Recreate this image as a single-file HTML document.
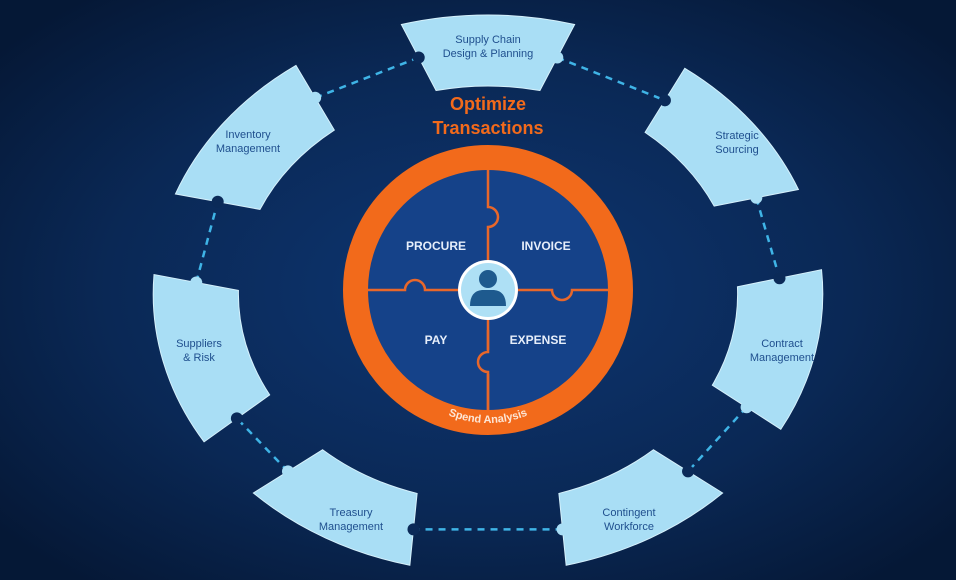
<!DOCTYPE html>
<html><head><meta charset="utf-8"><style>
html,body{margin:0;padding:0;background:#0a2550;}
svg{display:block;}
text{font-family:"Liberation Sans",sans-serif;}
</style></head><body>
<svg id="s" width="956" height="580" viewBox="0 0 956 580" xmlns="http://www.w3.org/2000/svg">
<defs>
<radialGradient id="bg" cx="50%" cy="50%" r="65%">
<stop offset="0" stop-color="#0e3672"/><stop offset="0.6" stop-color="#0a2855"/><stop offset="1" stop-color="#051836"/>
</radialGradient>
<path id="arcp" d="M 370 290 A 118 133 0 0 0 606 290"/>
</defs>
<rect width="956" height="580" fill="url(#bg)"/>
<g id="dash" stroke="#3fb4e6" stroke-width="2.5" stroke-dasharray="7 6" fill="none"></g>
<g id="segs"></g>
<text x="488" y="110" text-anchor="middle" font-size="18" font-weight="bold" fill="#f26a1b">Optimize</text>
<text x="488" y="134" text-anchor="middle" font-size="18" font-weight="bold" fill="#f26a1b">Transactions</text>
<circle cx="488" cy="290" r="132.5" fill="#154289" stroke="#f26a1b" stroke-width="25"/>
<g stroke="#e8672a" stroke-width="2.5" fill="none">
<path d="M488 170 V207 A10 10 0 0 1 488 227 V410"/>
<path d="M368 290 H405 A10 10 0 0 1 425 290 H552 A10 10 0 0 0 572 290 H608"/>
</g>
<rect x="486" y="350" width="4" height="24" fill="#154289"/>
<path d="M488 330 V352 A10 10 0 0 0 488 372 V410" stroke="#e8672a" stroke-width="2.5" fill="none"/>
<g font-size="12" font-weight="bold" fill="#e6eefa" text-anchor="middle">
<text x="436" y="250">PROCURE</text><text x="546" y="250">INVOICE</text>
<text x="436" y="344">PAY</text><text x="538" y="344">EXPENSE</text>
</g>
<circle cx="488" cy="290" r="30" fill="#fff"/>
<circle cx="488" cy="290" r="27" fill="#aee0f5"/>
<circle cx="488" cy="279" r="9" fill="#1e5a8e"/>
<path d="M470 306 Q470 291 482 290 L494 290 Q506 291 506 306 Z" fill="#1e5a8e"/>
<text font-size="11" font-weight="bold" fill="#fde6d6"><textPath href="#arcp" startOffset="50%" text-anchor="middle">Spend Analysis</textPath></text>
</svg>
<script>
var cx=488,cy=294,k=1.2,r1=208,r2=279;
var segs=[[90,15,["Supply Chain","Design & Planning"],488,43],
[38,16,["Strategic","Sourcing"],737,139],
[-12,17,["Contract","Management"],782,347],
[-61,15.5,["Contingent","Workforce"],629,516],
[-119,15.5,["Treasury","Management"],351,516],
[194,18,["Suppliers","& Risk"],199,347],
[142,17,["Inventory","Management"],248,138]];
function P(r,a){a=a*Math.PI/180;return [cx+k*r*Math.cos(a),cy-r*Math.sin(a)];}
function M(p,q){return [(p[0]+q[0])/2,(p[1]+q[1])/2];}
var g=document.getElementById('segs'),d=document.getElementById('dash'),h="",dh="";
var ends=[];
segs.forEach(function(s){
 var a1=s[0]+s[1],a2=s[0]-s[1],b1=s[0]+s[1]-3,b2=s[0]-s[1]+3;
 var A=P(r2,a1),B=P(r2,a2),C=P(r1,b2),D=P(r1,b1);
 h+='<path d="M'+A+' A'+(k*r2)+' '+r2+' 0 0 1 '+B+' L'+C+' A'+(k*r1)+' '+r1+' 0 0 0 '+D+' Z" fill="#a9def5" stroke="#d6f1fc" stroke-width="1"/>';
 var e1=M(A,D),e2=M(B,C);
 h+='<circle cx="'+e1[0]+'" cy="'+e1[1]+'" r="6" fill="#0b2a58"/><circle cx="'+e2[0]+'" cy="'+e2[1]+'" r="6" fill="#a9def5"/>';
 h+='<text x="'+s[3]+'" y="'+s[4]+'" text-anchor="middle" font-size="11" fill="#1f4f8e">'+s[2][0].replace('&','&amp;')+'</text>';
 h+='<text x="'+s[3]+'" y="'+(s[4]+14)+'" text-anchor="middle" font-size="11" fill="#1f4f8e">'+s[2][1].replace('&','&amp;')+'</text>';
 ends.push([e1,e2]);
});
for(var i=0;i<ends.length;i++){var a=ends[i][1],b=ends[(i+1)%ends.length][0];
 dh+='<line x1="'+a[0]+'" y1="'+a[1]+'" x2="'+b[0]+'" y2="'+b[1]+'"/>';}
g.innerHTML=h;d.innerHTML=dh;
</script>
</body></html>
